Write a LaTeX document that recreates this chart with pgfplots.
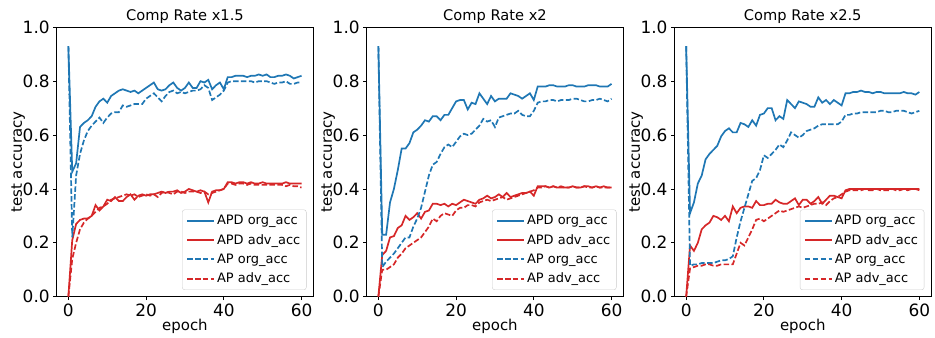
\documentclass[border=0pt]{standalone}
\usepackage{fontspec}
\setmainfont{DejaVu Sans}
\usepackage{pgfplots}
\usepackage{pgfplotstable}
\pgfplotsset{compat=1.18}
\definecolor{tabblue}{HTML}{1F77B4}
\definecolor{tabred}{HTML}{D62728}

% columns: epoch, APD org_acc, APD adv_acc, AP org_acc, AP adv_acc
\pgfplotstableread{
e apdorg apdadv aporg apadv
0 0.93 0.0 0.93 0.0
1 0.464 0.21 0.22 0.14
2 0.495 0.27 0.45 0.2
3 0.63 0.285 0.53 0.25
4 0.645 0.29 0.58 0.275
5 0.655 0.29 0.615 0.29
6 0.67 0.3 0.635 0.3
7 0.705 0.34 0.65 0.315
8 0.725 0.32 0.665 0.33
9 0.735 0.335 0.645 0.335
10 0.72 0.36 0.665 0.345
11 0.745 0.355 0.68 0.36
12 0.755 0.37 0.685 0.365
13 0.765 0.355 0.685 0.37
14 0.77 0.355 0.71 0.375
15 0.765 0.37 0.705 0.38
16 0.76 0.38 0.71 0.375
17 0.765 0.36 0.715 0.38
18 0.755 0.375 0.715 0.37
19 0.765 0.38 0.715 0.375
20 0.775 0.375 0.735 0.38
21 0.785 0.38 0.745 0.375
22 0.795 0.38 0.755 0.38
23 0.77 0.385 0.74 0.37
24 0.765 0.39 0.725 0.385
25 0.77 0.385 0.745 0.39
26 0.785 0.39 0.76 0.385
27 0.795 0.39 0.765 0.38
28 0.775 0.395 0.755 0.39
29 0.765 0.385 0.76 0.39
30 0.775 0.39 0.755 0.385
31 0.795 0.4 0.76 0.39
32 0.775 0.395 0.765 0.39
33 0.775 0.39 0.765 0.39
34 0.8 0.395 0.77 0.385
35 0.795 0.39 0.785 0.39
36 0.805 0.35 0.775 0.38
37 0.77 0.39 0.73 0.385
38 0.785 0.395 0.74 0.39
39 0.795 0.395 0.75 0.395
40 0.77 0.4 0.765 0.4
41 0.815 0.425 0.795 0.42
42 0.815 0.425 0.8 0.42
43 0.82 0.42 0.8 0.415
44 0.82 0.425 0.8 0.42
45 0.82 0.425 0.8 0.42
46 0.815 0.42 0.8 0.415
47 0.82 0.425 0.8 0.42
48 0.82 0.42 0.795 0.415
49 0.825 0.42 0.8 0.415
50 0.82 0.425 0.8 0.415
51 0.825 0.42 0.8 0.415
52 0.815 0.42 0.795 0.415
53 0.815 0.42 0.79 0.415
54 0.82 0.42 0.795 0.415
55 0.82 0.42 0.795 0.415
56 0.825 0.425 0.8 0.41
57 0.82 0.42 0.79 0.415
58 0.81 0.42 0.79 0.41
59 0.815 0.42 0.795 0.41
60 0.82 0.42 0.795 0.405
}\dataA

\pgfplotstableread{
e apdorg apdadv aporg apadv
0 0.93 0.0 0.93 0.0
1 0.23 0.155 0.11 0.1
2 0.23 0.17 0.13 0.1
3 0.35 0.22 0.145 0.11
4 0.4 0.225 0.16 0.12
5 0.47 0.255 0.18 0.145
6 0.55 0.265 0.2 0.16
7 0.55 0.3 0.22 0.18
8 0.57 0.285 0.22 0.19
9 0.61 0.295 0.26 0.2
10 0.62 0.31 0.29 0.21
11 0.635 0.29 0.33 0.22
12 0.655 0.315 0.39 0.24
13 0.65 0.32 0.45 0.26
14 0.67 0.345 0.49 0.29
15 0.67 0.345 0.5 0.28
16 0.655 0.34 0.53 0.3
17 0.675 0.345 0.555 0.31
18 0.675 0.335 0.565 0.305
19 0.7 0.345 0.555 0.3
20 0.725 0.34 0.575 0.32
21 0.73 0.35 0.595 0.33
22 0.73 0.36 0.605 0.33
23 0.695 0.355 0.6 0.34
24 0.72 0.35 0.605 0.34
25 0.715 0.345 0.62 0.335
26 0.755 0.36 0.635 0.35
27 0.735 0.365 0.66 0.355
28 0.715 0.375 0.65 0.36
29 0.745 0.365 0.655 0.355
30 0.725 0.37 0.63 0.36
31 0.735 0.38 0.665 0.365
32 0.735 0.37 0.67 0.37
33 0.735 0.385 0.675 0.36
34 0.755 0.37 0.68 0.365
35 0.75 0.375 0.68 0.37
36 0.745 0.38 0.69 0.375
37 0.735 0.385 0.675 0.38
38 0.745 0.385 0.67 0.385
39 0.755 0.39 0.67 0.39
40 0.73 0.375 0.69 0.395
41 0.78 0.41 0.72 0.405
42 0.78 0.41 0.725 0.405
43 0.78 0.41 0.725 0.41
44 0.785 0.405 0.73 0.405
45 0.785 0.41 0.73 0.41
46 0.78 0.405 0.725 0.405
47 0.78 0.405 0.73 0.41
48 0.78 0.405 0.73 0.405
49 0.785 0.405 0.73 0.405
50 0.785 0.41 0.735 0.41
51 0.78 0.405 0.735 0.405
52 0.78 0.405 0.73 0.405
53 0.78 0.41 0.725 0.41
54 0.785 0.41 0.725 0.405
55 0.785 0.405 0.73 0.405
56 0.785 0.41 0.73 0.41
57 0.78 0.405 0.735 0.405
58 0.78 0.41 0.73 0.405
59 0.78 0.405 0.725 0.405
60 0.79 0.405 0.735 0.405
}\dataB

\pgfplotstableread{
e apdorg apdadv aporg apadv
0 0.93 0.0 0.93 0.0
1 0.31 0.19 0.115 0.105
2 0.35 0.17 0.12 0.11
3 0.42 0.2 0.12 0.115
4 0.45 0.25 0.125 0.115
5 0.51 0.265 0.125 0.12
6 0.53 0.275 0.125 0.12
7 0.545 0.3 0.125 0.115
8 0.56 0.295 0.13 0.115
9 0.595 0.285 0.135 0.12
10 0.615 0.3 0.135 0.12
11 0.625 0.28 0.14 0.12
12 0.61 0.335 0.15 0.12
13 0.61 0.31 0.22 0.16
14 0.645 0.33 0.28 0.2
15 0.64 0.335 0.33 0.19
16 0.63 0.335 0.38 0.22
17 0.655 0.33 0.43 0.25
18 0.635 0.355 0.44 0.285
19 0.675 0.34 0.47 0.29
20 0.68 0.34 0.525 0.28
21 0.7 0.345 0.515 0.29
22 0.7 0.345 0.53 0.3
23 0.655 0.36 0.545 0.31
24 0.67 0.35 0.565 0.32
25 0.66 0.345 0.555 0.315
26 0.73 0.345 0.58 0.32
27 0.715 0.355 0.61 0.325
28 0.7 0.365 0.6 0.33
29 0.725 0.34 0.59 0.335
30 0.72 0.36 0.6 0.33
31 0.715 0.36 0.615 0.335
32 0.705 0.345 0.62 0.34
33 0.705 0.355 0.625 0.345
34 0.74 0.37 0.635 0.345
35 0.72 0.345 0.64 0.35
36 0.73 0.36 0.64 0.34
37 0.715 0.375 0.64 0.355
38 0.73 0.375 0.64 0.365
39 0.72 0.37 0.64 0.37
40 0.71 0.365 0.65 0.38
41 0.755 0.395 0.675 0.39
42 0.755 0.4 0.675 0.395
43 0.76 0.4 0.68 0.395
44 0.76 0.4 0.68 0.395
45 0.765 0.4 0.685 0.395
46 0.76 0.4 0.685 0.4
47 0.76 0.4 0.685 0.395
48 0.755 0.4 0.685 0.395
49 0.76 0.4 0.685 0.4
50 0.76 0.4 0.69 0.395
51 0.755 0.4 0.69 0.395
52 0.755 0.4 0.685 0.395
53 0.755 0.4 0.685 0.4
54 0.755 0.4 0.69 0.395
55 0.755 0.4 0.69 0.395
56 0.76 0.4 0.69 0.4
57 0.755 0.4 0.685 0.395
58 0.755 0.4 0.68 0.4
59 0.75 0.4 0.685 0.4
60 0.76 0.395 0.69 0.4
}\dataC

\pgfplotsset{
  panel/.style={
    scale only axis,
    width=256.5bp, height=269.4bp,
    xmin=-3, xmax=63, ymin=0, ymax=1,
    xtick={0,20,40,60},
    ytick={0,0.2,0.4,0.6,0.8,1.0},
    yticklabel style={/pgf/number format/.cd,fixed,fixed zerofill,precision=1},
    /pgf/number format/assume math mode=true,
    tick align=outside,
    tick pos=left,
    major tick length=3.5bp,
    every tick/.style={black, line width=0.8bp},
    axis line style={black, line width=0.8bp},
    ticklabel style={font=\fontsize{17}{20}\selectfont},
    title style={font=\fontsize{14.7}{17}\selectfont,
      at={(axis description cs:0.5,1.039)}, anchor=center, yshift=-6pt},
    xlabel={epoch},
    ylabel={test accuracy},
    xlabel style={font=\fontsize{15}{18}\selectfont,
      at={(axis description cs:0.5,-0.111)}, anchor=center},
    ylabel style={font=\fontsize{15}{18}\selectfont,
      at={(axis description cs:-0.1497,0.5)}, anchor=center},
    legend cell align=left,
    legend style={
      at={(1,0)}, anchor=south east, xshift=-6.7bp, yshift=6.7bp,
      font=\fontsize{13}{15}\selectfont,
      draw=black!20, rounded corners=2.5bp,
      fill=white, fill opacity=0.8, text opacity=1,
      row sep=4.2bp, inner xsep=4bp, inner ysep=3.5bp,
    },
    legend image code/.code={
      \draw[line width=1.8bp] (0bp,0bp) -- (27bp,0bp);
    },
  },
  apdorg/.style={color=tabblue, line width=1.7bp},
  apdadv/.style={color=tabred, line width=1.7bp},
  aporg/.style={color=tabblue, line width=1.7bp, dash pattern=on 5.5bp off 2.4bp},
  apadv/.style={color=tabred, line width=1.7bp, dash pattern=on 5.5bp off 2.4bp},
}

\begin{document}
\begin{tikzpicture}
\useasboundingbox (0bp,0bp) rectangle (935bp,338bp);

\begin{axis}[panel, at={(56.7bp,41.3bp)}, anchor=south west, title={Comp Rate x1.5}]
\addplot[apdorg] table[x=e,y=apdorg]{\dataA};
\addplot[apdadv] table[x=e,y=apdadv]{\dataA};
\addplot[aporg] table[x=e,y=aporg]{\dataA};
\addplot[apadv] table[x=e,y=apadv]{\dataA};
\legend{APD org\_acc, APD adv\_acc, AP org\_acc, AP adv\_acc}
\end{axis}

\begin{axis}[panel, at={(366.7bp,41.3bp)}, anchor=south west, title={Comp Rate x2}]
\addplot[apdorg] table[x=e,y=apdorg]{\dataB};
\addplot[apdadv] table[x=e,y=apdadv]{\dataB};
\addplot[aporg] table[x=e,y=aporg]{\dataB};
\addplot[apadv] table[x=e,y=apadv]{\dataB};
\legend{APD org\_acc, APD adv\_acc, AP org\_acc, AP adv\_acc}
\end{axis}

\begin{axis}[panel, at={(674.5bp,41.3bp)}, anchor=south west, title={Comp Rate x2.5}]
\addplot[apdorg] table[x=e,y=apdorg]{\dataC};
\addplot[apdadv] table[x=e,y=apdadv]{\dataC};
\addplot[aporg] table[x=e,y=aporg]{\dataC};
\addplot[apadv] table[x=e,y=apadv]{\dataC};
\legend{APD org\_acc, APD adv\_acc, AP org\_acc, AP adv\_acc}
\end{axis}
\end{tikzpicture}
\end{document}
